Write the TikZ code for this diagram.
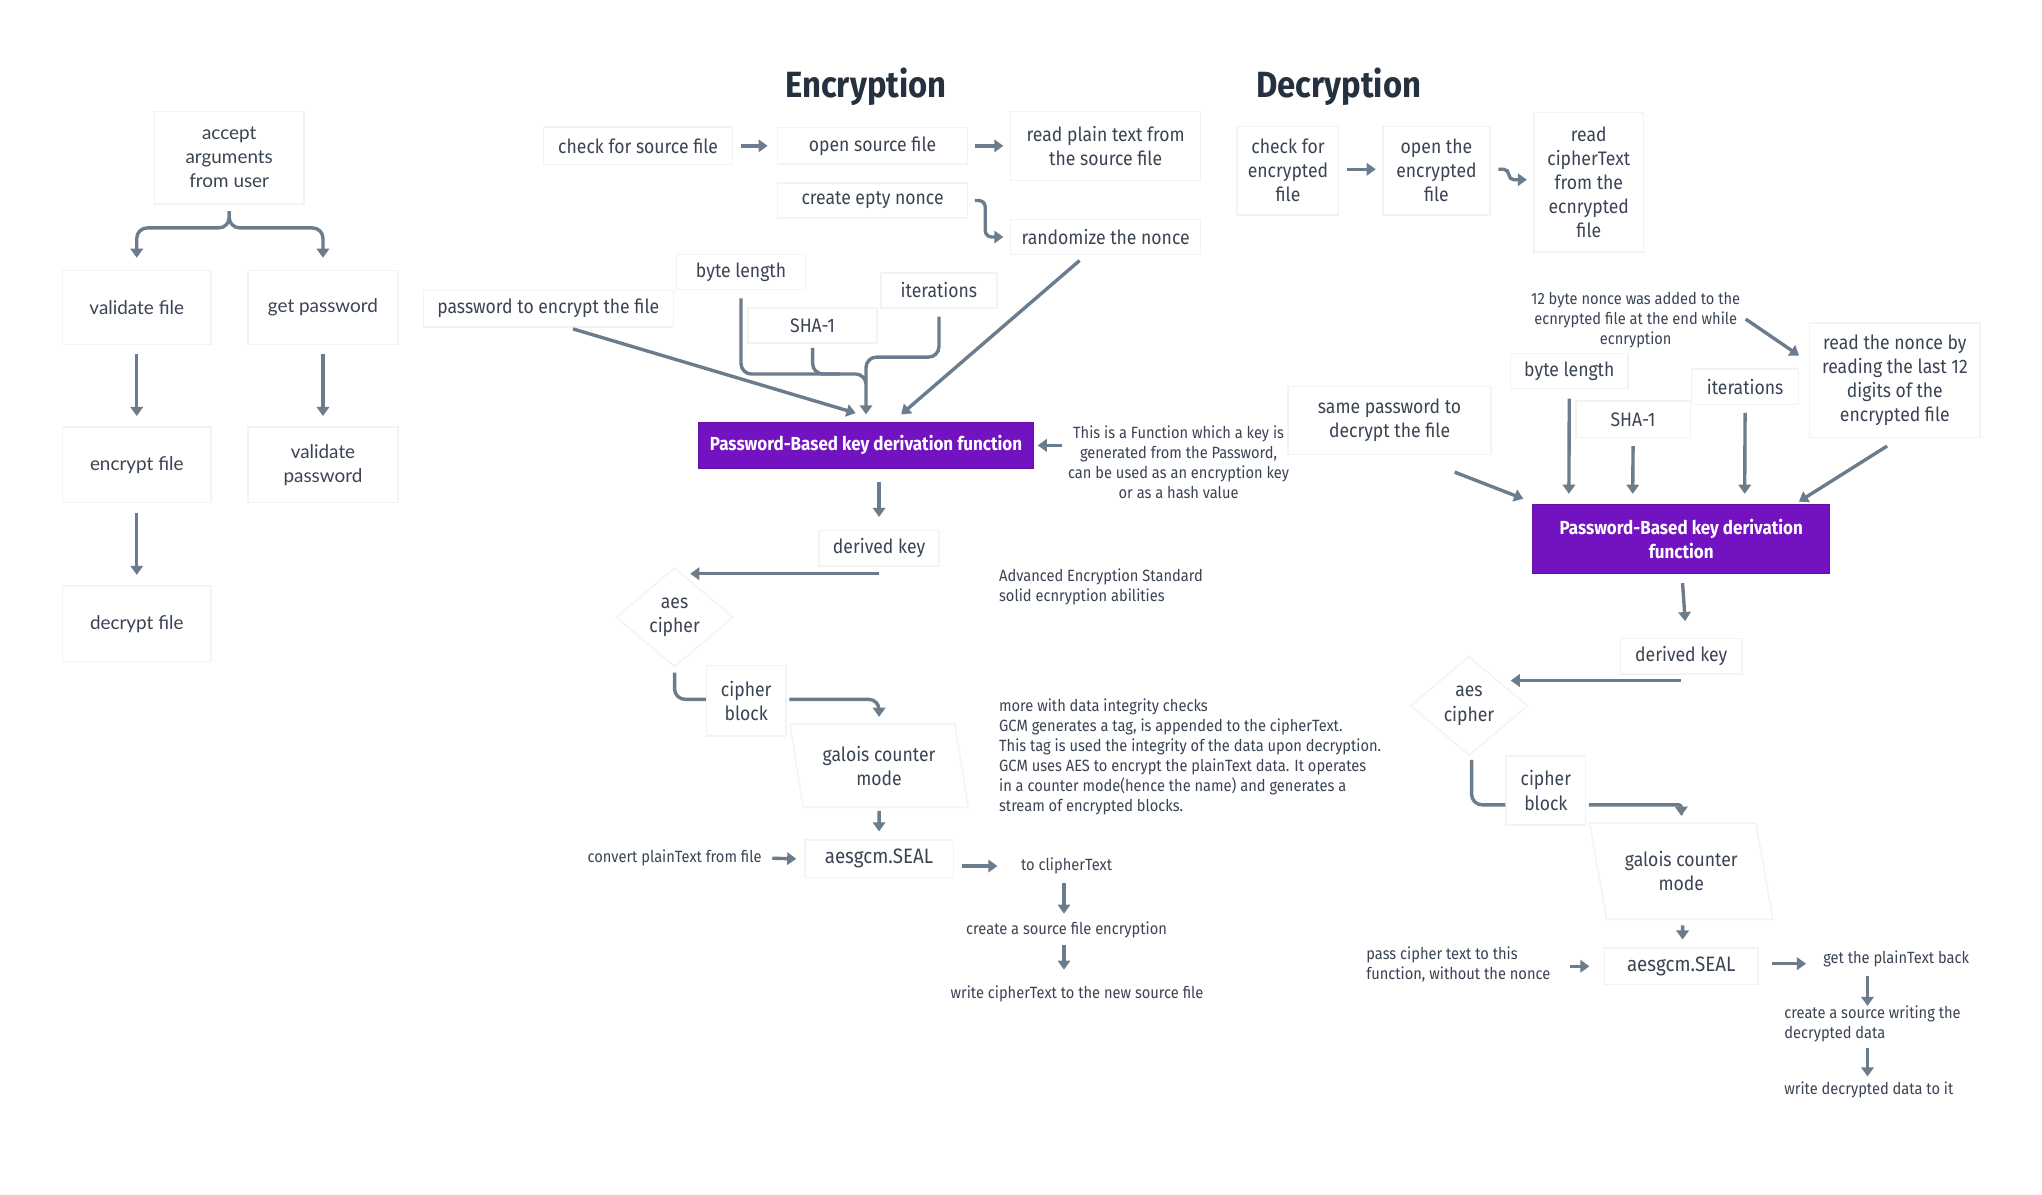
\documentclass[tikz,border=0pt]{standalone}
\usepackage{fontspec}
\setmainfont{Fira Sans}[FakeStretch=0.9]
\newfontfamily\leftfont{Lato}
\usetikzlibrary{arrows.meta,shapes.geometric,calc}
\definecolor{arr}{HTML}{6B7C8D}
\definecolor{txt}{HTML}{3A4453}
\definecolor{notec}{HTML}{3A4454}
\definecolor{purp}{HTML}{7312C1}
\definecolor{boxl}{HTML}{F2F3F5}
\definecolor{ttl}{HTML}{26313F}
\begin{document}
\begin{tikzpicture}[x=1pt,y=-1pt,
  box/.style={draw=boxl, line width=1.1pt, fill=white, align=center, text=txt, inner sep=0pt, font=\fontsize{15}{18.5}\selectfont},
  lbox/.style={box, font=\leftfont\fontsize{14.5}{18.5}\selectfont},
  pbox/.style={fill=purp, draw=purp!85!black, line width=0.6pt, text=white, align=center, inner sep=0pt, font=\bfseries\fontsize{14.5}{18}\selectfont},
  note/.style={text=notec, align=center, inner sep=0pt, font=\fontsize{12.5}{15.3}\selectfont},
  ttlst/.style={text=ttl, inner sep=0pt, font=\bfseries\fontsize{28}{30}\selectfont},
  ar/.style={draw=arr, line width=2.6pt, -{Triangle[length=7pt,width=9.5pt]}, rounded corners=8pt},
  ln/.style={draw=arr, line width=2.6pt, rounded corners=8pt},
  para/.style={box, trapezium, trapezium stretches=true},
]
\fill[white] (0,0) rectangle (1568,917);
\useasboundingbox (0,0) rectangle (1568,917);

% ---------------- left panel
\node[lbox, minimum width=115, minimum height=71] (acc) at (176,121) {accept\\arguments\\from user};
\node[lbox, minimum width=114, minimum height=57] (vf) at (105,236) {validate file};
\node[lbox, minimum width=115, minimum height=57] (gp) at (248,236) {get password};
\node[lbox, minimum width=114, minimum height=58] (ef) at (105,357) {encrypt file};
\node[lbox, minimum width=115, minimum height=58] (vp) at (248,357) {validate\\password};
\node[lbox, minimum width=114, minimum height=58] (df) at (105,479) {decrypt file};
\coordinate (brc) at (176,175);
\draw[ar] ($(acc.south)+(0,5)$) -- (brc) -| ($(vf.north)+(0,-9)$);
\draw[ar] ($(acc.south)+(0,5)$) -- (brc) -| ($(gp.north)+(0,-9)$);
\draw[ar] ($(vf.south)+(0,7)$) -- ($(ef.north)+(0,-8)$);
\draw[ar] ($(gp.south)+(0,7)$) -- ($(vp.north)+(0,-8)$);
\draw[ar] ($(ef.south)+(0,7)$) -- ($(df.north)+(0,-8)$);

% ---------------- encryption
\node[ttlst] (t1) at (665,67) {Encryption};
\node[box, minimum width=145, minimum height=29] (csf) at (490,112) {check for source file};
\node[box, minimum width=146, minimum height=28] (osf) at (670,112) {open source file};
\node[box, minimum width=146, minimum height=53] (rpt) at (849,112) {read plain text from\\the source file};
\node[box, minimum width=146, minimum height=27] (cen) at (670,154) {create epty nonce};
\node[box, minimum width=146, minimum height=27] (rn) at (849,182) {randomize the nonce};
\node[box, minimum width=99, minimum height=27] (bl) at (569,209) {byte length};
\node[box, minimum width=89, minimum height=27] (it) at (721,223) {iterations};
\node[box, minimum width=99, minimum height=27] (sha) at (624,250) {SHA-1};
\node[box, minimum width=192, minimum height=28] (pw) at (421,237) {password to encrypt the file};
\node[pbox, minimum width=257, minimum height=35] (pk) at (665,342) {Password-Based key derivation function};
\node[note] (n1) at (905,355) {This is a Function which a key is\\generated from the Password,\\can be used as an encryption key\\or as a hash value};
\coordinate (n1a) at ($(pk.east)+(22,0)$);
\node[box, minimum width=92, minimum height=27] (dk) at (675,421) {derived key};
\node[box, diamond, aspect=1.2, minimum width=90, minimum height=76] (aes) at (518,474) {aes\\cipher};
\coordinate (aesin) at ($(dk.south)+(-145,5.5)$);
\node[note, align=left, anchor=west] (aesn) at (767,450.5) {Advanced Encryption Standard\\solid ecnryption abilities};
\node[box, minimum width=61, minimum height=54] (cb) at (573,538) {cipher\\block};
\node[para, trapezium left angle=104, trapezium right angle=76, minimum width=137, minimum height=64] (gcm) at (675,588) {galois counter\\mode};
\node[note, align=left, anchor=west] (gcmn) at (767,581) {more with data integrity checks\\GCM generates a tag, is appended to the cipherText.\\This tag is used the integrity of the data upon decryption.\\GCM uses AES to encrypt the plainText data. It operates\\in a counter mode(hence the name) and generates a\\stream of encrypted blocks.};
\node[box, minimum width=114, minimum height=29, font=\fontsize{16}{18}\selectfont] (seal) at (675,659.5) {aesgcm.SEAL};
\node[note] (conv) at (518,659) {convert plainText from file};
\node[note] (toc) at (819,665) {to clipherText};
\node[note] (cse) at (819,714) {create a source file encryption};
\node[note] (wct) at (827,763) {write cipherText to the new source file};

\draw[ar] ($(csf.east)+(6,0)$) -- ($(osf.west)+(-7,0)$);
\draw[ar] ($(osf.east)+(5,0)$) -- ($(rpt.west)+(-5,0)$);
\draw[ar, rounded corners=5pt] ($(cen.east)+(5,0)$) -- ++(8,0) |- ($(rn.west)+(-5,0)$);
\draw[ar] ($(pw.south)+(19,1)$) -- ($(pk.north)+(-8,-7)$);
\draw[ar] ($(bl.south)+(0,6)$) |- ($(pk.north)+(0,-37)$) -- ($(pk.north)+(0,-6)$);
\draw[ln] ($(it.south)+(0,6)$) |- ($(pk.north)+(0,-50)$) -- ($(pk.north)+(0,-30)$);
\draw[ln] ($(sha.south)+(0,3)$) |- ($(pk.north)+(-20,-37)$);
\draw[ar] ($(rn.south)+(-20,4)$) -- ($(pk.north)+(27,-6)$);
\draw[ar] (n1a) -- ($(pk.east)+(3,0)$);
\draw[ar] ($(pk.south)+(10,10)$) -- ($(dk.north)+(0,-10)$);
\draw[ar] ($(dk.south)+(0,5.5)$) -- (aesin);
\draw[ln] ($(aes.south)+(0,4)$) |- ($(cb.west)+(0,-1)$);
\draw[ar] ($(cb.east)+(2,-1)$) -| ($(gcm.north)+(0,-5)$);
\draw[ar] ($(gcm.south)+(0,2)$) -- ($(seal.north)+(0,-6)$);
\draw[ar] ($(conv.east)+(8,0)$) -- ($(seal.west)+(-6,0)$);
\draw[ar] ($(seal.east)+(6,5.5)$) -- ($(toc.west)+(-18,0)$);
\draw[ar] ($(toc.south)+(-2,7)$) -- ($(cse.north)+(-2,-6)$);
\draw[ar] ($(cse.south)+(-2,5)$) -- ($(wct.north)+(-10,-12)$);

% ---------------- decryption
\node[ttlst] (t2) at (1028,67) {Decryption};
\node[box, minimum width=78, minimum height=68] (cef) at (989,131) {check for\\encrypted\\file};
\node[box, minimum width=82, minimum height=68] (oef) at (1103,131) {open the\\encrypted\\file};
\node[box, minimum width=84, minimum height=107] (rct) at (1220,140) {read\\cipherText\\from the\\ecnrypted\\file};
\node[note] (n2) at (1256,246) {12 byte nonce was added to the\\ecnrypted file at the end while\\ecnryption};
\node[box, minimum width=131, minimum height=88] (rn2) at (1455,292) {read the nonce by\\reading the last 12\\digits of the\\encrypted file};
\node[box, minimum width=90, minimum height=27] (bl2) at (1205,285) {byte length};
\node[box, minimum width=82, minimum height=27] (it2) at (1340,297) {iterations};
\node[box, minimum width=88, minimum height=28] (sha2) at (1254,322) {SHA-1};
\node[box, minimum width=156, minimum height=52] (pw2) at (1067,323) {same password to\\decrypt the file};
\node[pbox, minimum width=228, minimum height=53] (pk2) at (1291,414) {Password-Based key derivation\\function};
\node[box, minimum width=93, minimum height=27] (dk2) at (1291,504) {derived key};
\node[box, diamond, aspect=1.2, minimum width=90, minimum height=76] (aes2) at (1128,542) {aes\\cipher};
\coordinate (aes2in) at ($(dk2.south)+(-131,4.5)$);
\node[box, minimum width=61, minimum height=53] (cb2) at (1187,607) {cipher\\block};
\node[para, trapezium left angle=108, trapezium right angle=72, minimum width=141, minimum height=74] (gcm2) at (1291,669) {galois counter\\mode};
\node[box, minimum width=118, minimum height=28, font=\fontsize{16}{18}\selectfont] (seal2) at (1291,742) {aesgcm.SEAL};
\node[note, align=left, anchor=west] (pass) at (1049,740.5) {pass cipher text to this\\function, without the nonce};
\node[note] (get) at (1456,736) {get the plainText back};
\node[note, align=left, anchor=west] (cr2) at (1370,786.5) {create a source writing the\\decrypted data};
\node[note, anchor=west] (wr2) at (1370,837) {write decrypted data to it};

\draw[ar] ($(cef.east)+(6,-1)$) -- ($(oef.west)+(-5,-1)$);
\draw[ar, rounded corners=4pt] ($(oef.east)+(6,-1)$) -- ++(8,0) |- ($(rct.west)+(-5,-2)$);
\draw[ar] ($(n2.east)+(4,-1)$) -- ($(rn2.west)+(-7.5,-19)$);
\draw[ar] ($(pw2.south)+(50,13)$) -- ($(pk2.west)+(-7,-31)$);
\draw[ar] ($(bl2.south)+(0,7)$) -- ($(pk2.north west)+(28,-8)$);
\draw[ar] ($(sha2.south)+(0,6)$) -- ($(pk2.north west)+(77,-8)$);
\draw[ar] ($(it2.south)+(0,6)$) -- ($(pk2.north west)+(163,-8)$);
\draw[ar] ($(rn2.south)+(-6,6)$) -- ($(pk2.north east)+(-24,-2)$);
\draw[ar] ($(pk2.south)+(1,7)$) -- ($(dk2.north)+(3,-13)$);
\draw[ar] ($(dk2.south)+(0,4.5)$) -- (aes2in);
\draw[ln] ($(aes2.south)+(2,3)$) |- ($(cb2.west)+(0,11)$);
\draw[ar, rounded corners=2pt] ($(cb2.east)+(2,11)$) -| ($(gcm2.north)+(0,-5)$);
\draw[ar] ($(gcm2.south)+(1,4)$) -- ($(seal2.north)+(1,-6)$);
\draw[ar] ($(pass.east)+(15,1.5)$) -- ($(seal2.west)+(-11,0)$);
\draw[ar] ($(seal2.east)+(10,-2)$) -- ($(get.west)+(-13,4)$);
\draw[ar] ($(get.south)+(-22,7)$) -- ($(cr2.north west)+(64,0)$);
\draw[ar] ($(cr2.south west)+(64,4)$) -- ($(wr2.north west)+(64,-4)$);
\end{tikzpicture}
\end{document}
